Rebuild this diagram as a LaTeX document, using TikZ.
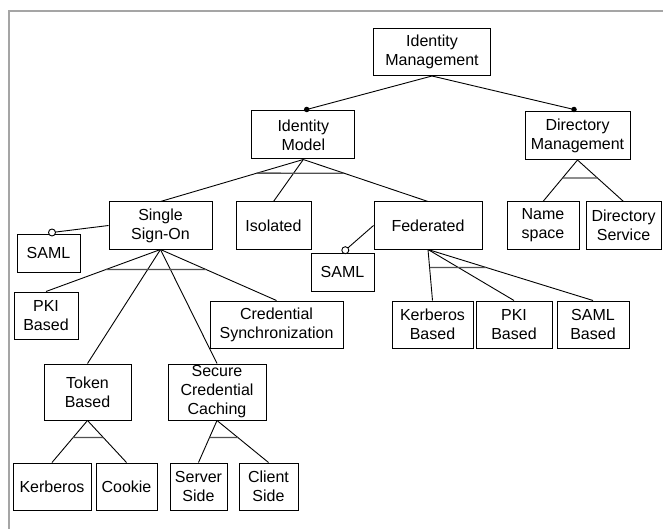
\documentclass[tikz,border=0pt]{standalone}
\usepackage{fontspec}
\setmainfont{Liberation Sans}
\usetikzlibrary{calc}
\definecolor{framegray}{RGB}{165,165,165}
\definecolor{bargray}{RGB}{80,80,80}
\tikzset{
  feat/.style={draw, line width=1pt, inner sep=0pt, align=center,
    font=\fontsize{16}{19}\selectfont},
  link/.style={line width=0.9pt},
  altbar/.style={line width=1.4pt, bargray},
  mand/.style={circle, fill=black, inner sep=0pt, minimum size=5.5pt},
  opt/.style={circle, draw, fill=white, line width=0.9pt, inner sep=0pt, minimum size=7pt},
}
% horizontal bar joining the outermost links of an alternative group
\newcommand\altgroup[4]{%
  \draw[altbar]
    (intersection cs: first line={(#1.south)--(#2.north)},
       second line={($(#1.south)+(-300,#4)$)--($(#1.south)+(300,#4)$)})
    --
    (intersection cs: first line={(#1.south)--(#3.north)},
       second line={($(#1.south)+(-300,#4)$)--($(#1.south)+(300,#4)$)});}
\begin{document}
\begin{tikzpicture}[x=1pt,y=-1pt]
\useasboundingbox (0,0) rectangle (663,529);
\draw[line width=2pt, framegray] (9,529) -- (9,11) -- (663,11);

% features
\node[feat, minimum width=117pt, minimum height=47pt] (im)   at (432,52)    {Identity\\Management};
\node[feat, minimum width=103pt, minimum height=48pt] (imod) at (303.3,135) {Identity\\Model};
\node[feat, minimum width=105pt, minimum height=48pt] (dm)   at (577.5,135.5) {Directory\\Management};

\node[feat, minimum width=103pt, minimum height=47pt] (sso)  at (160.5,225.5) {Single\\Sign-On};
\node[feat, minimum width=75pt,  minimum height=47pt] (iso)  at (273.5,225.5) {Isolated};
\node[feat, minimum width=108pt, minimum height=47pt] (fed)  at (428,225.5)   {Federated};
\node[feat, minimum width=72pt,  minimum height=47pt] (ns)   at (543,225.5)   {Name\\space};
\node[feat, minimum width=75pt,  minimum height=47pt] (ds)   at (623.5,225.5) {Directory\\Service};

\node[feat, minimum width=63pt,  minimum height=38pt] (samla) at (48.5,253)   {SAML};
\node[feat, minimum width=63pt,  minimum height=38pt] (samlb) at (342.5,272)  {SAML};

\node[feat, minimum width=64pt,  minimum height=47pt] (pkia) at (46,315.5)    {PKI\\Based};
\node[feat, minimum width=133pt, minimum height=47pt] (cs)   at (276.5,324.5) {Credential\\Synchronization};
\node[feat, minimum width=81pt,  minimum height=47pt] (kb)   at (432.5,324.5) {Kerberos\\Based};
\node[feat, minimum width=76pt,  minimum height=47pt] (pkib) at (514,324.5)   {PKI\\Based};
\node[feat, minimum width=72pt,  minimum height=47pt] (sb)   at (593,324.5)   {SAML\\Based};

\node[feat, minimum width=87pt,  minimum height=56pt] (tb)   at (87.5,392)    {Token\\Based};
\node[feat, minimum width=98pt,  minimum height=56pt] (scc)  at (217,392)     {Secure\\Credential\\Caching};

\node[feat, minimum width=78pt,  minimum height=47pt] (kerb) at (52,486.5)    {Kerberos};
\node[feat, minimum width=61pt,  minimum height=47pt] (cook) at (126.5,486.5) {Cookie};
\node[feat, minimum width=57pt,  minimum height=47pt] (ss)   at (198.5,486.5) {Server\\Side};
\node[feat, minimum width=59pt,  minimum height=47pt] (cls)  at (268.5,486.5) {Client\\Side};

% attachment points of mandatory and optional links
\coordinate (imodtop) at ($(imod.north)+(3.4,-1)$);
\coordinate (dmtop)   at ($(dm.north)+(-3.5,-1.5)$);
\coordinate (samlatop) at ($(samla.north)+(3.5,-1)$);
\coordinate (samlbtop) at ($(samlb.north)+(2.8,-2.3)$);

% links
\draw[link] (im.south) -- (imodtop);
\draw[link] (im.south) -- (dmtop);
\draw[link] (imod.south) -- (sso.north);
\draw[link] (imod.south) -- (iso.north);
\draw[link] (imod.south) -- (fed.north);
\draw[link] (dm.south) -- (ns.north);
\draw[link] (dm.south) -- (ds.north);
\draw[link] (sso.west) -- (samlatop);
\draw[link] (fed.west) -- (samlbtop);
\draw[link] (sso.south) -- (pkia.north);
\draw[link] (sso.south) -- (cs.north);
\draw[link] (sso.south) -- (tb.north);
\draw[link] (sso.south) -- (scc.north);
\draw[link] (fed.south) -- (kb.north);
\draw[link] (fed.south) -- (pkib.north);
\draw[link] (fed.south) -- (sb.north);
\draw[link] (tb.south) -- (kerb.north);
\draw[link] (tb.south) -- (cook.north);
\draw[link] (scc.south) -- (ss.north);
\draw[link] (scc.south) -- (cls.north);

% alternative groups
\altgroup{imod}{sso}{fed}{13.7}
\altgroup{dm}{ns}{ds}{18}
\altgroup{sso}{pkia}{cs}{20}
\altgroup{fed}{kb}{sb}{18}
\altgroup{tb}{kerb}{cook}{17}
\altgroup{scc}{ss}{cls}{17}

% mandatory and optional markers
\node[mand] (mimod) at (imodtop) {};
\node[mand] (mdm)   at (dmtop) {};
\node[opt]  (osamla) at (samlatop) {};
\node[opt]  (osamlb) at (samlbtop) {};
\end{tikzpicture}
\end{document}
